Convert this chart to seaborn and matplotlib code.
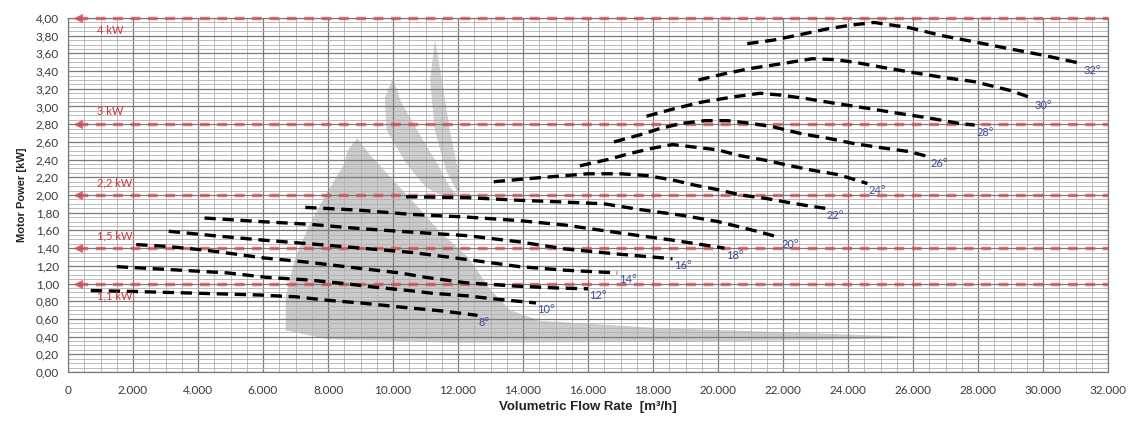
import numpy as np
import pandas as pd
import matplotlib
matplotlib.use("Agg")
import matplotlib.pyplot as plt
import seaborn as sns
from matplotlib.ticker import MultipleLocator, FuncFormatter

sns.set_theme(style="white")
plt.rcParams['font.family'] = ['Lato', 'DejaVu Sans']

# ---------------- data ----------------
angles = ['8°', '10°', '12°', '14°', '16°', '18°', '20°', '22°', '24°', '26°', '28°', '30°', '32°']

x_8 = [700, 2000, 4000, 5900, 7000, 8000, 9000, 10200, 11500, 12600]
y_8 = [0.92, 0.91, 0.89, 0.87, 0.85, 0.81, 0.78, 0.735, 0.69, 0.64]
x_10 = [1500, 3000, 4900, 6100, 7400, 8500, 9400, 10500, 11200, 12300, 13000, 14400]
y_10 = [1.19, 1.16, 1.12, 1.07, 1.04, 1.00, 0.96, 0.92, 0.89, 0.86, 0.83, 0.78]
x_12 = [2100, 3000, 4150, 5200, 6000, 7400, 9000, 10200, 11000, 12200, 13800, 15000, 16000]
y_12 = [1.44, 1.42, 1.38, 1.33, 1.29, 1.24, 1.17, 1.12, 1.07, 1.01, 0.97, 0.95, 0.94]
x_14 = [3100, 4500, 6000, 7400, 9000, 10600, 12300, 13900, 15300, 16900]
y_14 = [1.59, 1.54, 1.49, 1.45, 1.40, 1.35, 1.27, 1.19, 1.15, 1.12]
x_16 = [4200, 5900, 7400, 9000, 10600, 12300, 13900, 15300, 17000, 18600]
y_16 = [1.74, 1.70, 1.67, 1.62, 1.58, 1.54, 1.47, 1.39, 1.33, 1.28]
x_18 = [7300, 8900, 10600, 12300, 13900, 15300, 17000, 18600, 20200]
y_18 = [1.86, 1.83, 1.78, 1.75, 1.71, 1.66, 1.57, 1.49, 1.40]
x_20 = [10400, 12300, 13900, 15300, 16500, 17700, 18900, 20000, 21200, 21900]
y_20 = [1.98, 1.97, 1.94, 1.92, 1.90, 1.83, 1.77, 1.70, 1.59, 1.52]
x_22 = [13100, 14000, 15000, 16000, 17000, 17800, 18600, 19300, 20000, 20700, 21500, 22100, 22900, 23300]
y_22 = [2.15, 2.18, 2.21, 2.24, 2.24, 2.22, 2.17, 2.11, 2.06, 2.00, 1.96, 1.92, 1.87, 1.85]
x_24 = [15750, 16600, 17300, 18000, 18600, 19300, 20000, 20600, 21500, 22100, 22900, 23700, 24600]
y_24 = [2.33, 2.40, 2.47, 2.53, 2.57, 2.54, 2.51, 2.45, 2.39, 2.34, 2.28, 2.23, 2.13]
x_26 = [16800, 17600, 18200, 18900, 19600, 20300, 21000, 21700, 22600, 23400, 24200, 25100, 25900, 26500]
y_26 = [2.60, 2.68, 2.75, 2.81, 2.84, 2.84, 2.81, 2.77, 2.69, 2.64, 2.58, 2.53, 2.49, 2.43]
x_28 = [17800, 18700, 19500, 20500, 21300, 21900, 22700, 23700, 24600, 25600, 26500, 27400, 27900]
y_28 = [2.89, 2.98, 3.05, 3.11, 3.15, 3.13, 3.09, 3.03, 2.98, 2.92, 2.87, 2.81, 2.79]
x_30 = [19400, 20200, 21000, 21900, 22900, 23600, 24200, 25100, 25900, 26900, 27900, 29000, 29700]
y_30 = [3.30, 3.37, 3.43, 3.48, 3.54, 3.53, 3.50, 3.44, 3.39, 3.33, 3.28, 3.18, 3.09]
x_32 = [20900, 21700, 22500, 23400, 24100, 24800, 25900, 26900, 27900, 29000, 30000, 31000, 31200]
y_32 = [3.71, 3.75, 3.81, 3.88, 3.92, 3.95, 3.89, 3.80, 3.73, 3.65, 3.58, 3.50, 3.48]

curves_x = [x_8, x_10, x_12, x_14, x_16, x_18, x_20, x_22, x_24, x_26, x_28, x_30, x_32]
curves_y = [y_8, y_10, y_12, y_14, y_16, y_18, y_20, y_22, y_24, y_26, y_28, y_30, y_32]

motor_levels = [4.0, 2.8, 2.0, 1.4, 1.0]
motor_labels = ['4 kW', '3 kW', '2,2 kW', '1,5 kW', '1,1 kW']
motor_label_above = [False, True, True, True, False]
motor_line_start = 300
motor_line_end = 32000

# shaded operating region (gray fan)
body_x = [6700, 6700, 7000, 7450, 7900, 8500, 8600, 8900, 9300, 9800, 10300, 10800, 11400, 12300,
          13000, 13600, 14500, 18000, 23500, 26500, 23000, 18000, 12000, 8000, 6700]
body_y = [0.47, 0.85, 1.30, 1.68, 1.98, 2.35, 2.50, 2.64, 2.45, 2.25, 2.05, 1.85, 1.60, 1.30,
          0.93, 0.70, 0.58, 0.50, 0.43, 0.39, 0.36, 0.34, 0.33, 0.37, 0.47]
leaf2_x = [10000, 9750, 9800, 10400, 11000, 11700, 12000, 11750, 11350, 10750, 10250, 10000]
leaf2_y = [3.32, 3.10, 2.73, 2.36, 2.09, 1.95, 2.00, 2.09, 2.36, 2.73, 3.05, 3.32]
leaf3_x = [11290, 11140, 11290, 11630, 12000, 12060, 12000, 11750, 11510, 11290]
leaf3_y = [3.75, 3.30, 2.73, 2.28, 2.02, 2.06, 2.28, 2.73, 3.30, 3.75]

# ---------------- figure ----------------
fig = plt.figure(figsize=(11.34, 4.21), dpi=100)
ax = fig.add_axes([68 / 1134, 49 / 421, 1040 / 1134, 354 / 421])
ax.set_facecolor('white')

# gray region
for px, py, col in [(body_x, body_y, '#cbcbcb'), (leaf2_x, leaf2_y, '#cfcfcf'), (leaf3_x, leaf3_y, '#cfcfcf')]:
    ax.fill(px, py, color=col, lw=0, zorder=1)

# grid
ax.set_xlim(0, 32000)
ax.set_ylim(0, 4.0)
ax.xaxis.set_major_locator(MultipleLocator(2000))
ax.xaxis.set_minor_locator(MultipleLocator(500))
ax.yaxis.set_major_locator(MultipleLocator(0.2))
ax.yaxis.set_minor_locator(MultipleLocator(0.05))
ax.grid(which='major', color='#7a7a7a', lw=0.9, zorder=1.5)
ax.grid(which='minor', color='#b0b0b0', lw=0.6, zorder=1.5)
ax.set_axisbelow('line')

# red motor power lines
red = '#d9474f'
for lvl, lab, above in zip(motor_levels, motor_labels, motor_label_above):
    sns.lineplot(x=[motor_line_start, motor_line_end], y=[lvl, lvl], ax=ax, color=red,
                 lw=2.5, linestyle=(0, (2.8, 2.2)), alpha=0.72, clip_on=False, zorder=3)
    ax.annotate(lab, xy=(motor_line_start, lvl), xytext=(14, 5 if above else -5),
                textcoords='offset points', ha='left', va='bottom' if above else 'top',
                color='#d03535', fontsize=8, zorder=6)
sns.scatterplot(x=[motor_line_start] * len(motor_levels), y=motor_levels, ax=ax, marker='<',
                s=35, color=red, edgecolor=red, alpha=0.8, zorder=4, clip_on=False, legend=False)

# black characteristic curves
blue = '#3d4c9e'
for ang, cx, cy in zip(angles, curves_x, curves_y):
    df = pd.DataFrame({'flow': cx, 'power': cy})
    sns.lineplot(data=df, x='flow', y='power', ax=ax, color='black', lw=2.4,
                 linestyle=(0, (3.4, 2.0)), sort=False, estimator=None, zorder=5)
    ax.annotate(ang, xy=(cx[-1], cy[-1]), xytext=(1, -5), textcoords='offset points',
                ha='left', va='center', color=blue, fontsize=8, zorder=6)

# axes formatting
ax.xaxis.set_major_formatter(FuncFormatter(lambda v, p: f"{int(round(v)):,}".replace(',', '.')))
ax.yaxis.set_major_formatter(FuncFormatter(lambda v, p: f"{v:.2f}".replace('.', ',')))
ax.tick_params(axis='both', which='major', labelsize=8.5, labelcolor='#3a3a3a',
               length=3, color='#7a7a7a', width=0.8)
ax.tick_params(axis='both', which='minor', length=0)
ax.tick_params(axis='x', pad=6)
for s in ax.spines.values():
    s.set_color('#7a7a7a')
    s.set_linewidth(0.9)

ax.set_xlabel('Volumetric Flow Rate  [m³/h]', fontsize=9.5, fontweight='bold',
              family=['Liberation Sans', 'DejaVu Sans'], color='#222222', labelpad=4)
ax.set_ylabel('Motor Power [kW]', fontsize=8, fontweight='bold',
              family=['Liberation Sans', 'DejaVu Sans'], color='#222222', labelpad=6)

fig.savefig('out.png', dpi=100)
